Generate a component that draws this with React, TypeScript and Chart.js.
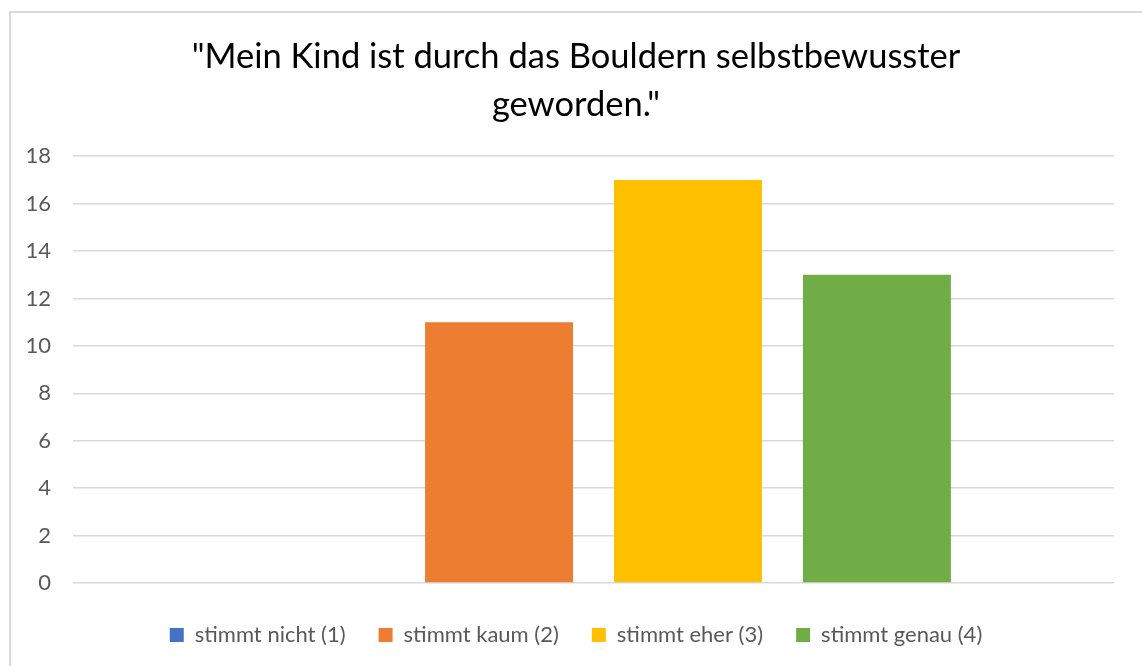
import React, { useEffect, useRef } from "react";
import { Chart, registerables } from "chart.js";

Chart.register(...registerables);

const titleLines = ['"Mein Kind ist durch das Bouldern selbstbewusster', 'geworden."'];
const categories = [""];
const seriesNames = ["stimmt nicht (1)", "stimmt kaum (2)", "stimmt eher (3)", "stimmt genau (4)"];
const seriesValues = [[0], [11], [17], [13]];
const seriesColors = ["#4472C4", "#ED7D31", "#FFC000", "#70AD47"];
const yMin = 0;
const yMax = 18;
const yStep = 2;

const FONT = "Lato, 'Noto Sans', sans-serif";

export default function App() {
  const ref = useRef<HTMLCanvasElement | null>(null);
  useEffect(() => {
    if (!ref.current) return;
    const chart = new Chart(ref.current, {
      type: "bar",
      data: {
        labels: categories,
        datasets: seriesNames.map((name, i) => ({
          label: name,
          data: seriesValues[i],
          backgroundColor: seriesColors[i],
          borderWidth: 0,
          categoryPercentage: 0.726,
          barPercentage: 0.783,
        })),
      },
      options: {
        animation: false,
        responsive: false,
        maintainAspectRatio: false,
        layout: { padding: { left: 10, right: 0, top: 0, bottom: 10 } },
        plugins: {
          tooltip: { enabled: false },
          title: {
            display: true,
            text: titleLines,
            color: "#000000",
            font: { family: FONT, size: 34.5, weight: "normal", lineHeight: 1.38 },
            padding: { top: 33, bottom: 28 },
          },
          legend: {
            position: "bottom",
            labels: {
              color: "#595959",
              font: { family: FONT, size: 22 },
              boxWidth: 14,
              boxHeight: 14,
              padding: 33,
            },
          },
        },
        scales: {
          x: {
            ticks: { display: false },
            grid: { display: false },
            border: { display: false },
          },
          y: {
            min: yMin,
            max: yMax,
            ticks: {
              stepSize: yStep,
              color: "#595959",
              font: { family: FONT, size: 22 },
              padding: 22,
            },
            grid: { color: "#d9d9d9", lineWidth: 1.5, drawTicks: false },
            border: { display: false },
            afterFit: (scale: any) => {
              scale.width = 63;
            },
          },
          y2: {
            position: "right",
            display: true,
            ticks: { display: false },
            grid: { display: false, drawTicks: false },
            border: { display: false },
            afterFit: (scale: any) => {
              scale.width = 28;
            },
          },
        },
      },
    });
    return () => chart.destroy();
  }, []);
  return (
    <div style={{ position: "fixed", left: 0, top: 0, width: 1142, height: 666, background: "#fff" }}>
      <div
        style={{
          position: "absolute",
          left: 9,
          top: 11,
          width: 1200,
          height: 700,
          border: "2px solid #d9d9d9",
          boxSizing: "border-box",
        }}
      />
      <canvas ref={ref} width={1142} height={666} style={{ position: "absolute", left: 0, top: 0 }} />
    </div>
  );
}
